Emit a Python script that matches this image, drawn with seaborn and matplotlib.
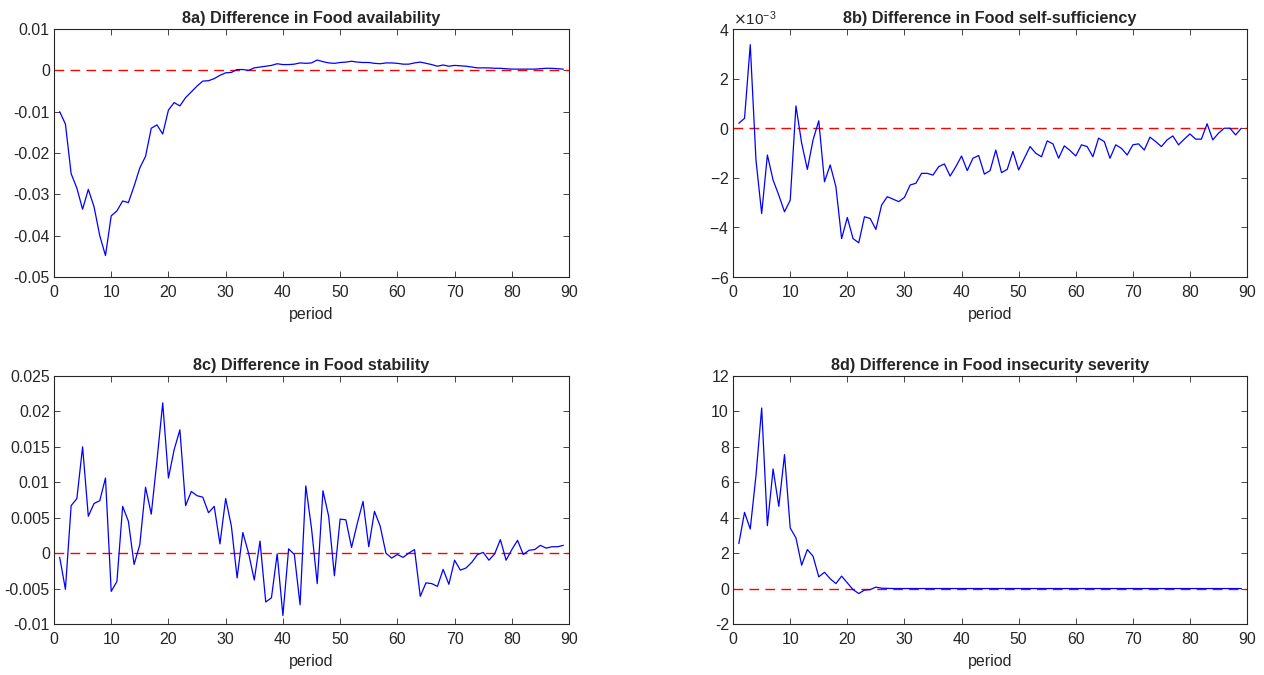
import numpy as np
import pandas as pd
import seaborn as sns
import matplotlib.pyplot as plt
from matplotlib.ticker import ScalarFormatter, FuncFormatter

# Data (periods 1..89)
periods = list(range(1, 90))

food_availability = [
    -0.0100, -0.0130, -0.0250, -0.0285, -0.0336, -0.0288, -0.0330, -0.0400, -0.0448, -0.0352,
    -0.0340, -0.0316, -0.0320, -0.0280, -0.0236, -0.0208, -0.0140, -0.0132, -0.0154, -0.0096,
    -0.0078, -0.0086, -0.0066, -0.0052, -0.0038, -0.0026, -0.0025, -0.0020, -0.0012, -0.0006,
    -0.0005, 0.0002, 0.0002, 0.0000, 0.0006, 0.0008, 0.0010, 0.0012, 0.0016, 0.0014,
    0.0014, 0.0015, 0.0018, 0.0017, 0.0018, 0.0025, 0.0021, 0.0018, 0.0017, 0.0019,
    0.0020, 0.0022, 0.0020, 0.0019, 0.0019, 0.0017, 0.0016, 0.0018, 0.0018, 0.0017,
    0.0015, 0.0015, 0.0018, 0.0020, 0.0017, 0.0014, 0.0010, 0.0013, 0.0010, 0.0012,
    0.0011, 0.0010, 0.0008, 0.0006, 0.0006, 0.0006, 0.0005, 0.0005, 0.0004, 0.0003,
    0.0003, 0.0003, 0.0003, 0.0003, 0.0004, 0.0005, 0.0005, 0.0004, 0.0003,
]

# self-sufficiency in units of 1e-3
self_sufficiency_e3 = [
    0.20, 0.40, 3.37, -1.28, -3.44, -1.08, -2.09, -2.70, -3.37, -2.90,
    0.90, -0.60, -1.66, -0.47, 0.30, -2.16, -1.48, -2.36, -4.45, -3.60,
    -4.45, -4.62, -3.57, -3.64, -4.08, -3.10, -2.76, -2.86, -2.96, -2.79,
    -2.29, -2.22, -1.82, -1.82, -1.89, -1.55, -1.44, -1.93, -1.55, -1.12,
    -1.71, -1.21, -1.10, -1.85, -1.71, -0.88, -1.79, -1.66, -0.94, -1.68,
    -1.21, -0.74, -1.01, -1.15, -0.51, -0.63, -1.21, -0.71, -0.90, -1.12,
    -0.67, -0.74, -1.15, -0.40, -0.54, -1.21, -0.67, -0.81, -1.08, -0.67,
    -0.63, -0.88, -0.36, -0.54, -0.74, -0.47, -0.31, -0.67, -0.44, -0.23,
    -0.44, -0.44, 0.18, -0.47, -0.20, 0.00, 0.00, -0.27, 0.00,
]

food_stability = [
    -0.0006, -0.0051, 0.0067, 0.0077, 0.0150, 0.0052, 0.0070, 0.0074, 0.0106, -0.0054,
    -0.0040, 0.0066, 0.0045, -0.0016, 0.0012, 0.0093, 0.0055, 0.0131, 0.0212, 0.0106,
    0.0146, 0.0174, 0.0067, 0.0087, 0.0081, 0.0079, 0.0057, 0.0066, 0.0013, 0.0077,
    0.0038, -0.0035, 0.0029, 0.0000, -0.0038, 0.0017, -0.0069, -0.0063, -0.0001, -0.0088,
    0.0006, -0.0002, -0.0073, 0.0095, 0.0035, -0.0043, 0.0088, 0.0052, -0.0032, 0.0048,
    0.0047, 0.0008, 0.0042, 0.0073, 0.0009, 0.0059, 0.0038, 0.0000, -0.0007, -0.0002,
    -0.0006, 0.0000, 0.0005, -0.0061, -0.0042, -0.0043, -0.0047, -0.0023, -0.0044, -0.0010,
    -0.0024, -0.0021, -0.0013, -0.0002, 0.0001, -0.0010, -0.0001, 0.0019, -0.0010, 0.0005,
    0.0018, -0.0002, 0.0004, 0.0005, 0.0011, 0.0007, 0.0009, 0.0009, 0.0011,
]

insecurity_severity = [
    2.54, 4.30, 3.36, 6.37, 10.19, 3.55, 6.75, 4.64, 7.56, 3.42,
    2.86, 1.32, 2.20, 1.82, 0.66, 0.92, 0.55, 0.28, 0.70, 0.32,
    -0.06, -0.28, -0.09, -0.06, 0.08, 0.02, 0.01, 0.00, 0.00, 0.00,
    0.00, 0.00, 0.00, 0.00, 0.00, 0.00, 0.00, 0.00, 0.00, 0.00,
    0.00, 0.00, 0.00, 0.00, 0.00, 0.00, 0.00, 0.00, 0.00, 0.00,
    0.00, 0.00, 0.00, 0.00, 0.00, 0.00, 0.00, 0.00, 0.00, 0.00,
    0.00, 0.00, 0.00, 0.00, 0.00, 0.00, 0.00, 0.00, 0.00, 0.00,
    0.00, 0.00, 0.00, 0.00, 0.00, 0.00, 0.00, 0.00, 0.00, 0.00,
    0.00, 0.00, 0.00, 0.00, 0.00, 0.00, 0.00, 0.00, 0.00,
]

titles = [
    '8a) Difference in Food availability',
    '8b) Difference in Food self-sufficiency',
    '8c) Difference in Food stability',
    '8d) Difference in Food insecurity severity',
]
x_ticks = [0, 10, 20, 30, 40, 50, 60, 70, 80, 90]
y_ticks_a = [-0.05, -0.04, -0.03, -0.02, -0.01, 0, 0.01]
y_ticks_b = [-6e-3, -4e-3, -2e-3, 0, 2e-3, 4e-3]
y_ticks_c = [-0.01, -0.005, 0, 0.005, 0.01, 0.015, 0.02, 0.025]
y_ticks_d = [-2, 0, 2, 4, 6, 8, 10, 12]

# Style (MATLAB-like look)
sns.set_theme(style='ticks')
plt.rcParams['font.family'] = ['Liberation Sans', 'DejaVu Sans']
plt.rcParams['axes.unicode_minus'] = False
plt.rcParams['xtick.direction'] = 'in'
plt.rcParams['ytick.direction'] = 'in'
plt.rcParams['xtick.top'] = True
plt.rcParams['ytick.right'] = True

fig = plt.figure(figsize=(12.64, 6.75), dpi=100)
positions = [
    [0.0427, 0.5896, 0.4075, 0.3674],
    [0.5800, 0.5896, 0.4066, 0.3674],
    [0.0427, 0.0756, 0.4075, 0.3674],
    [0.5800, 0.0756, 0.4066, 0.3674],
]
series = [
    np.array(food_availability),
    np.array(self_sufficiency_e3) * 1e-3,
    np.array(food_stability),
    np.array(insecurity_severity),
]
yticks_all = [y_ticks_a, y_ticks_b, y_ticks_c, y_ticks_d]

dark = '#262626'
for i in range(4):
    ax = fig.add_axes(positions[i])
    df = pd.DataFrame({'period': periods, 'value': series[i]})
    ax.axhline(0, color='#ff0000', lw=1.0, ls=(0, (7, 4.5)), zorder=1)
    sns.lineplot(data=df, x='period', y='value', ax=ax, color='#0000ff', lw=0.9, zorder=2)
    ax.set_xlim(0, 90)
    ax.set_ylim(yticks_all[i][0], yticks_all[i][-1])
    ax.set_xticks(x_ticks)
    ax.set_yticks(yticks_all[i])
    if i == 1:
        fmt = ScalarFormatter(useMathText=True)
        fmt.set_powerlimits((0, 0))
        ax.yaxis.set_major_formatter(fmt)
        ax.yaxis.get_offset_text().set_fontsize(11)
        ax.yaxis.get_offset_text().set_color(dark)
    else:
        ax.yaxis.set_major_formatter(FuncFormatter(lambda v, p: '%g' % round(v, 6)))
    ax.set_title(titles[i], fontsize=11.7, fontweight='bold', pad=4)
    ax.set_xlabel('period', fontsize=11.5, color=dark, labelpad=5)
    ax.set_ylabel('')
    ax.tick_params(axis='both', labelsize=11.4, colors=dark, length=4, width=0.6)
    ax.tick_params(axis='x', pad=6)
    ax.tick_params(axis='y', pad=3)
    for s in ax.spines.values():
        s.set_visible(True)
        s.set_color(dark)
        s.set_linewidth(0.8)

fig.savefig('out.png', dpi=100)
